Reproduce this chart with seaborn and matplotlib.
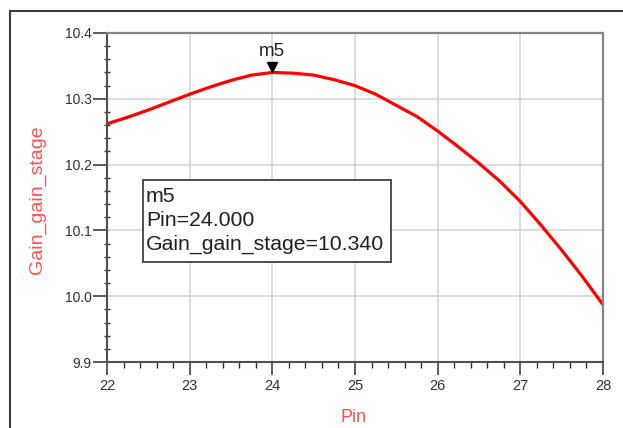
import matplotlib
matplotlib.use("Agg")
import matplotlib.pyplot as plt
import matplotlib.transforms as mtransforms
from matplotlib.patches import Rectangle
from matplotlib.ticker import AutoMinorLocator, FormatStrFormatter
import seaborn as sns
import numpy as np

# values
pin = [22.0, 22.25, 22.5, 22.75, 23.0, 23.25, 23.5, 23.75, 24.0, 24.25, 24.5, 24.75,
       25.0, 25.25, 25.5, 25.75, 26.0, 26.25, 26.5, 26.75, 27.0, 27.25, 27.5, 27.75, 28.0]
gain = [10.262, 10.272, 10.283, 10.295, 10.307, 10.318, 10.328, 10.336, 10.340, 10.339,
        10.336, 10.329, 10.320, 10.307, 10.290, 10.273, 10.251, 10.227, 10.202, 10.175,
        10.144, 10.108, 10.070, 10.030, 9.987]
x_ticks = [22, 23, 24, 25, 26, 27, 28]
y_ticks = [9.9, 10.0, 10.1, 10.2, 10.3, 10.4]
marker_name = "m5"
marker_idx = 8

sns.set_theme(style="white")
plt.rcParams['font.family'] = ['Liberation Sans', 'DejaVu Sans']

fig = plt.figure(figsize=(6.23, 4.28), dpi=100)
ax = fig.add_axes([107 / 623, 1 - 362 / 428, 496 / 623, 329 / 428])

sns.lineplot(x=pin, y=gain, color='#ff0000', linewidth=2.3, ax=ax)

ax.set_xlim(x_ticks[0], x_ticks[-1])
ax.set_ylim(y_ticks[0], y_ticks[-1])
ax.set_xticks(x_ticks)
ax.set_yticks(y_ticks)
ax.yaxis.set_major_formatter(FormatStrFormatter('%.1f'))
ax.xaxis.set_minor_locator(AutoMinorLocator(5))
ax.yaxis.set_minor_locator(AutoMinorLocator(5))

ax.grid(True, which='major', color='#d2d2d2', linewidth=1.1)
ax.set_axisbelow(True)

ax.tick_params(axis='x', which='major', direction='out', length=9.5, width=1.1,
               pad=3, labelsize=10.5, colors='#303030', bottom=True)
ax.tick_params(axis='x', which='minor', direction='out', length=4.3, width=1.0,
               color='#303030', bottom=True)
ax.tick_params(axis='y', which='major', direction='out', length=10, width=1.1,
               pad=1, labelsize=10, colors='#303030', left=True)
ax.tick_params(axis='y', which='minor', direction='inout', length=4.5, width=1.0,
               color='#303030', left=True)

for side in ['left', 'bottom']:
    ax.spines[side].set_color('#505050')
    ax.spines[side].set_linewidth(1.5)
for side in ['top', 'right']:
    ax.spines[side].set_color('#858585')
    ax.spines[side].set_linewidth(1.6)

ax.set_xlabel('Pin', color='#ff5050', fontsize=13)
ax.set_ylabel('Gain_gain_stage', color='#ff5050', fontsize=14)
ax.xaxis.set_label_coords(0.498, -0.143)
ax.yaxis.set_label_coords(-0.122, 0.492)

# marker m5 at the peak
mx, my = pin[marker_idx], gain[marker_idx]
shifted = mtransforms.offset_copy(ax.transData, fig=fig, y=3.8, units='points')
ax.plot([mx], [my], marker='v', color='black', markersize=7.5,
        linestyle='none', transform=shifted, clip_on=False, zorder=5)
ax.annotate(marker_name, xy=(mx, my), xytext=(0, 9), textcoords='offset points',
            ha='center', va='bottom', fontsize=13.5, color='#202020')

# readout box
ax.add_patch(Rectangle((0.0726, 0.304), 0.5, 0.249, transform=ax.transAxes,
                       facecolor='white', edgecolor='#404040', linewidth=1.3,
                       zorder=6))
readout = f"{marker_name}\nPin={mx:.3f}\nGain_gain_stage={my:.3f}"
ax.text(0.0786, 0.532, readout, transform=ax.transAxes, ha='left', va='top',
        fontsize=15.3, color='#202020', linespacing=1.32, zorder=7)

# outer window frame
fig.patches.append(Rectangle((10 / 623, -0.05), 1.0, (428 - 11) / 428 + 0.05,
                             transform=fig.transFigure, fill=False,
                             edgecolor='#3c3c3c', linewidth=1.5))

fig.savefig('out.png', dpi=100)
